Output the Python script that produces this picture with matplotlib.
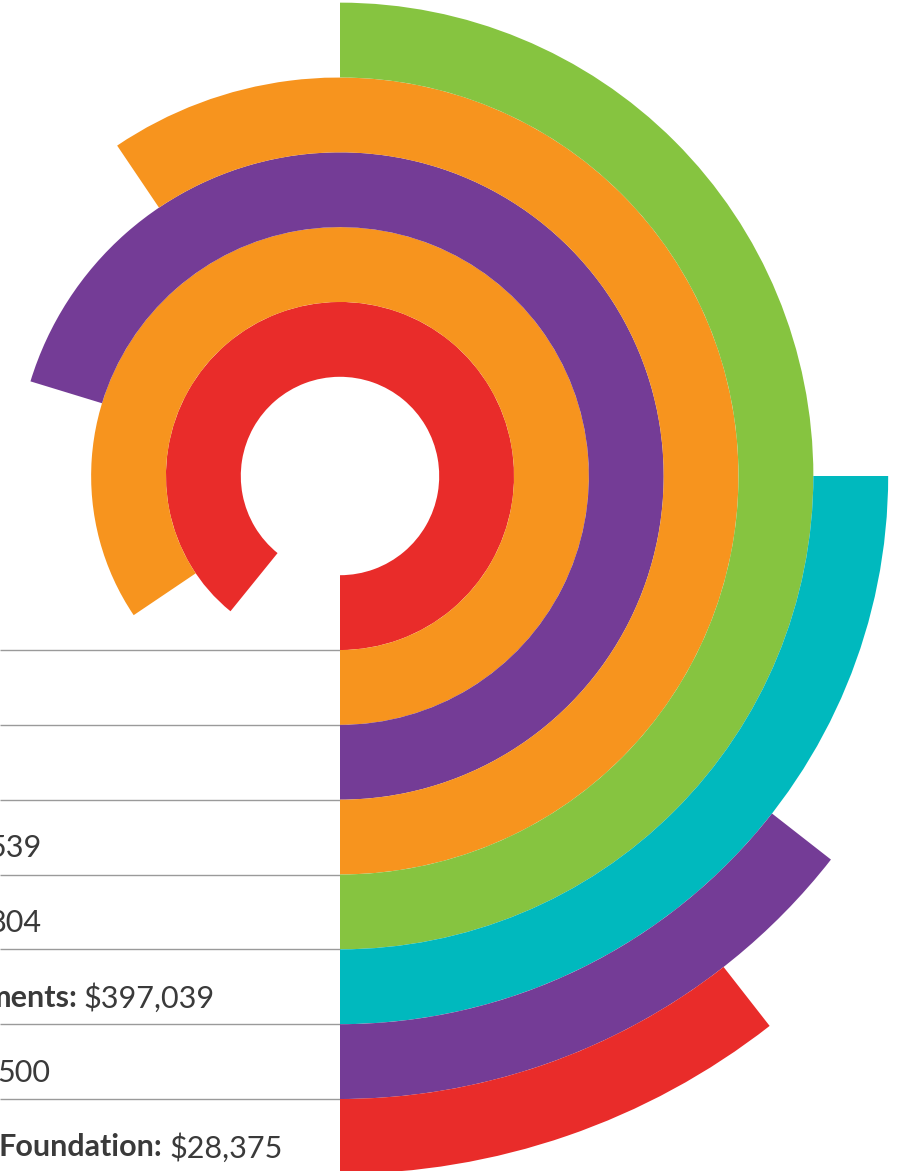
import matplotlib
matplotlib.use("Agg")
import matplotlib.pyplot as plt
from matplotlib.patches import Wedge

# ---- data (inner ring -> outer ring) ----
ring_colors = ["#E92C2A", "#F7941E", "#743C96", "#F7941E",
               "#86C440", "#00B9BE", "#743C96", "#E92C2A"]
sweep_deg = [321, 304, 253, 214, 180, 90, 52, 38]
label_bold = ["", "", "", "", "", "ments:", "", "Foundation:"]
label_value = ["", "", "", "539", "804", "$397,039", "500", "$28,375"]

# ---- layout ----
W, H = 914, 1171
cx, cy = 340, 476
r_hole = 99.2
ring_w = 74.83
label_right = [0, 0, 0, 42, 42, 215, 50, 283]

plt.rcParams['font.family'] = ['Lato', 'DejaVu Sans']

fig = plt.figure(figsize=(W / 100, H / 100), dpi=100)
ax = fig.add_axes([0, 0, 1, 1])
ax.set_xlim(0, W)
ax.set_ylim(H, 0)
ax.axis('off')

for i, (sw, col) in enumerate(zip(sweep_deg, ring_colors)):
    r_out = r_hole + ring_w * (i + 1)
    ax.add_patch(Wedge((cx, cy), r_out, 90 - sw, 90, width=ring_w,
                       facecolor=col, edgecolor='none', zorder=2))

# separator lines at the bottom of rings 1..7
for i in range(len(sweep_deg) - 1):
    y = cy + r_hole + ring_w * (i + 1)
    ax.plot([0, cx], [y, y], color='#9a9a9a', lw=1.0, zorder=1,
            solid_capstyle='butt')

fig.canvas.draw()
renderer = fig.canvas.get_renderer()
fs = 22
txt_col = '#3a3a3a'
for i, (b, v) in enumerate(zip(label_bold, label_value)):
    if not v:
        continue
    y = cy + r_hole + ring_w * (i + 0.5) + 11
    t = ax.text(label_right[i], y, v, ha='right', va='center', fontsize=fs,
                color=txt_col, zorder=3)
    if b:
        bb = t.get_window_extent(renderer=renderer)
        x_left = ax.transData.inverted().transform((bb.x0, bb.y0))[0]
        ax.text(x_left - 7, y, b, ha='right', va='center', fontsize=fs,
                fontweight='bold', color=txt_col, zorder=3)

fig.savefig("out.png", dpi=100)
